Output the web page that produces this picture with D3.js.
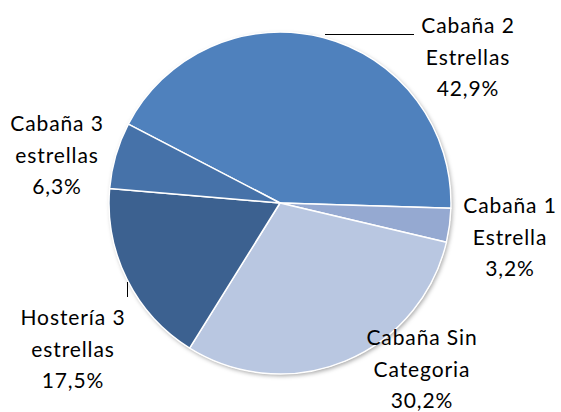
<!DOCTYPE html>
<html>
<head>
<meta charset="utf-8">
<script src="https://cdn.jsdelivr.net/npm/d3@7"></script>
<style>
  body { margin: 0; background: #fff; }
  text { font-family: Lato, "Open Sans", sans-serif; fill: #000; }
</style>
</head>
<body>
<div id="chart"></div>
<script>
'use strict'

// chart values
const categories = ['Cabaña 2 Estrellas', 'Cabaña 1 Estrella', 'Cabaña Sin Categoria', 'Hostería 3 estrellas', 'Cabaña 3 estrellas'];
const labelLines = [
  ['Cabaña 2', 'Estrellas'],
  ['Cabaña 1', 'Estrella'],
  ['Cabaña Sin', 'Categoria'],
  ['Hostería 3', 'estrellas'],
  ['Cabaña 3', 'estrellas']];
const values = [42.9, 3.2, 30.2, 17.5, 6.3];
const percentLabels = ['42,9%', '3,2%', '30,2%', '17,5%', '6,3%'];

const colorArray = ['#4f81bd', '#95a9d1', '#b9c7e1', '#3c6190', '#4672a9'];

// where each label block sits (centre x, first baseline y)
const labelPos = [[468, 33], [510, 213], [422, 345], [73, 325], [57, 131]];

const width = 561;
const height = 412;
const cx = 280;
const cy = 203;
const radius = 171;
const lineGap = 31.5;

const dataset = categories.map((c, i) => ({ label: c, value: values[i], lines: labelLines[i], pct: percentLabels[i] }));

const color = d3.scaleOrdinal().domain(categories).range(colorArray);

const svg = d3.select('#chart')
  .append('svg')
    .attr('width', width)
    .attr('height', height);

const defs = svg.append('defs');
const filter = defs.append('filter')
  .attr('id', 'shadow')
  .attr('x', '-10%').attr('y', '-10%')
  .attr('width', '120%').attr('height', '120%');
filter.append('feDropShadow')
  .attr('dx', 1.5).attr('dy', 2)
  .attr('stdDeviation', 2)
  .attr('flood-color', '#000')
  .attr('flood-opacity', 0.35);

const g = svg.append('g')
  .attr('transform', 'translate(' + cx + ',' + cy + ')');

const startAngle = -62.5 * Math.PI / 180;

const pie = d3.pie()
  .value(d => d.value)
  .sort(null)
  .startAngle(startAngle)
  .endAngle(startAngle + 2 * Math.PI);

const arc = d3.arc()
  .innerRadius(0)
  .outerRadius(radius);

// shadow underlay
g.append('circle')
  .attr('r', radius)
  .attr('fill', '#fff')
  .attr('filter', 'url(#shadow)');

g.selectAll('path.slice')
  .data(pie(dataset))
  .enter()
  .append('path')
  .attr('class', 'slice')
  .attr('d', arc)
  .attr('fill', d => color(d.data.label))
  .attr('stroke', '#fff')
  .attr('stroke-width', 1.5)
  .attr('stroke-linejoin', 'round');

// leader lines
svg.append('line')
  .attr('x1', 325).attr('y1', 34.5)
  .attr('x2', 414).attr('y2', 34.5)
  .attr('stroke', '#000').attr('stroke-width', 1);
svg.append('line')
  .attr('x1', 127.5).attr('y1', 282)
  .attr('x2', 127.5).attr('y2', 297)
  .attr('stroke', '#000').attr('stroke-width', 1);

// labels
const labels = svg.selectAll('text.lbl')
  .data(dataset)
  .enter()
  .append('text')
  .attr('class', 'lbl')
  .attr('text-anchor', 'middle')
  .attr('font-size', '21px')
  .attr('letter-spacing', '0.9px');

labels.each(function (d, i) {
  const t = d3.select(this);
  const rows = d.lines.concat([d.pct]);
  rows.forEach((r, k) => {
    t.append('tspan')
      .attr('x', labelPos[i][0])
      .attr('y', labelPos[i][1] + k * lineGap)
      .text(r);
  });
});
</script>
</body>
</html>
